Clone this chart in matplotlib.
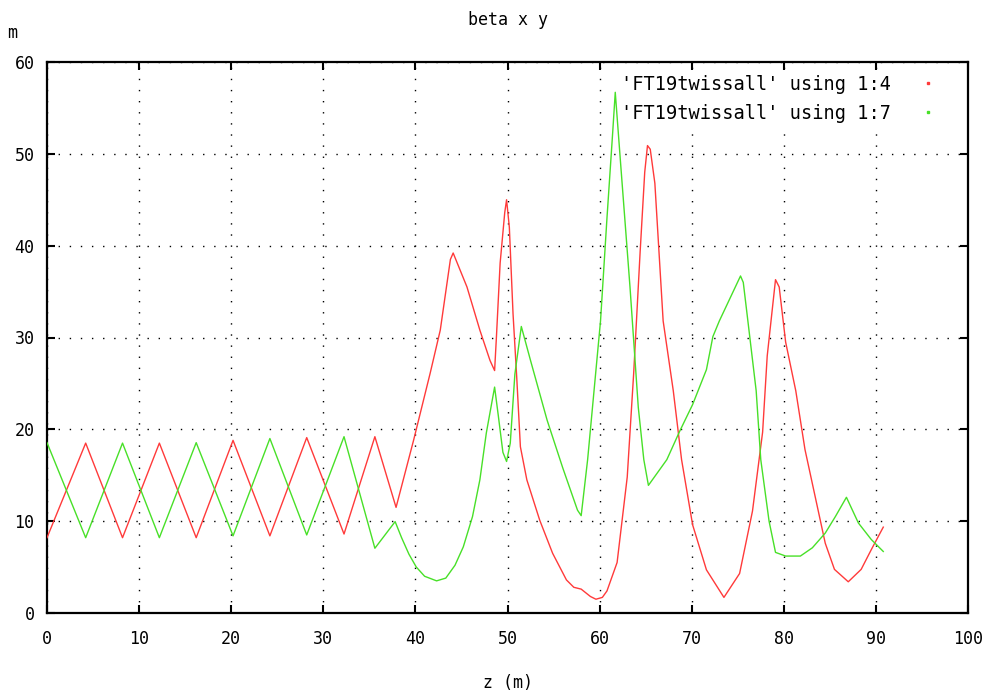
import numpy as np
import matplotlib.pyplot as plt
from matplotlib.lines import Line2D

# beta x (column 4)
z_bx = [0, 4.2, 8.2, 12.2, 16.2, 20.2, 24.2, 28.2, 32.25, 35.6, 37.9,
        39.8, 41.6, 42.7, 43.8, 44.1, 45.6, 47.0, 48.1, 48.6, 48.8, 49.2,
        49.7, 49.9, 50.2, 50.6, 51.0, 51.4, 52.1, 53.5, 54.9, 56.4, 57.2,
        58.0, 59.0, 59.6, 60.3, 60.8, 61.9, 63.0, 63.7, 64.4, 64.9, 65.2,
        65.5, 66.0, 66.9, 68.0, 68.9, 70.1, 71.6, 73.5, 75.2, 76.6, 77.7,
        78.2, 79.1, 79.5, 80.2, 81.3, 82.3, 83.4, 84.5, 85.5, 87.0, 88.4,
        89.5, 90.8]
beta_x = [8.2, 18.5, 8.2, 18.5, 8.2, 18.8, 8.4, 19.1, 8.6, 19.2, 11.5,
          18.8, 26.1, 30.8, 38.5, 39.2, 35.5, 30.8, 27.5, 26.4, 30.1, 38.1,
          43.6, 45.0, 42.0, 32.6, 25.7, 18.1, 14.5, 10.1, 6.5, 3.6, 2.8,
          2.6, 1.8, 1.5, 1.7, 2.4, 5.5, 14.8, 26.1, 39.3, 48.0, 50.9,
          50.5, 46.8, 31.8, 24.2, 16.7, 9.6, 4.7, 1.7, 4.3, 11.1, 19.7,
          28.0, 36.3, 35.5, 29.5, 24.2, 17.8, 12.7, 7.6, 4.75, 3.4, 4.75,
          6.9, 9.35]

# beta y (column 7)
z_by = [0, 4.2, 8.2, 12.2, 16.2, 20.2, 24.2, 28.2, 32.25, 35.6, 37.8,
        38.5, 39.3, 40.1, 41.0, 42.3, 43.3, 44.3, 45.2, 46.2, 47.0, 47.7,
        48.6, 49.0, 49.5, 49.9, 50.3, 50.8, 51.5, 52.5, 54.3, 56.0, 57.6,
        58.0, 58.7, 60.1, 60.8, 61.4, 61.7, 62.3, 63.3, 64.2, 64.8, 65.3,
        67.3, 68.7, 70.1, 71.6, 72.3, 73.0, 75.3, 75.6, 76.1, 77.0, 77.5,
        78.4, 79.1, 80.2, 81.8, 83.1, 84.5, 85.6, 86.8, 88.1, 89.5, 90.8]
beta_y = [18.55, 8.2, 18.5, 8.2, 18.55, 8.4, 19.0, 8.5, 19.2, 7.05, 9.95,
          8.2, 6.4, 5.0, 4.0, 3.5, 3.8, 5.2, 7.2, 10.5, 14.5, 19.6,
          24.6, 21.5, 17.5, 16.5, 18.5, 26.0, 31.2, 27.5, 21.0, 15.8, 11.2,
          10.6, 16.7, 31.8, 43.0, 52.0, 56.7, 48.7, 35.5, 22.4, 16.7, 13.9,
          16.7, 19.8, 22.7, 26.5, 30.1, 31.8, 36.7, 36.0, 31.8, 24.2, 16.7,
          10.0, 6.6, 6.2, 6.2, 7.1, 8.7, 10.5, 12.6, 9.8, 8.0, 6.7]

x_ticks = np.arange(0, 101, 10)
y_ticks = np.arange(0, 61, 10)

red = "#ff3a3a"
green = "#48e028"

plt.rcParams['font.family'] = ['DejaVu Sans Mono']
plt.rcParams['font.size'] = 12

fig = plt.figure(figsize=(9.92, 7.0), dpi=100)
ax = fig.add_axes([47 / 992, 87 / 700, 921 / 992, 551 / 700])

ax.plot(z_bx, beta_x, color=red, lw=1.0, zorder=3)
ax.plot(z_by, beta_y, color=green, lw=1.0, zorder=3)

ax.set_xlim(0, 100)
ax.set_ylim(0, 60)
ax.set_xticks(x_ticks)
ax.set_yticks(y_ticks)
ax.tick_params(direction="in", length=6, width=1.5, top=True, right=True,
               labelsize=12)
ax.tick_params(axis="x", pad=12)
ax.tick_params(axis="y", pad=9)
for sp in ax.spines.values():
    sp.set_linewidth(1.6)
ax.grid(True, color="black", linestyle=(0, (1, 7)), linewidth=1.0)

# legend: text with tiny point samples on the right, like gnuplot
# (white box hides the grid there, curves still drawn on top)
handles = [Line2D([], [], ls="none", marker="s", markersize=1.5, color=red),
           Line2D([], [], ls="none", marker="s", markersize=1.5, color=green)]
leg = ax.legend(handles, ["'FT19twissall' using 1:4", "'FT19twissall' using 1:7"],
                loc="upper right", bbox_to_anchor=(1 - 27 / 921, 1 - 9 / 551),
                markerfirst=False, fontsize=13.4,
                frameon=True, facecolor="white", edgecolor="white",
                framealpha=1, fancybox=False, handlelength=1.0,
                handletextpad=1.5, borderaxespad=0.0, borderpad=0.2,
                labelspacing=0.55)
leg.set_zorder(2.5)

fig.text(508 / 992, 1 - 20 / 700, "beta x y", ha="center", va="center", fontsize=12)
fig.text(12 / 992, 1 - 33 / 700, "m", ha="center", va="center", fontsize=12)
fig.text(508 / 992, 1 - 683 / 700, "z (m)", ha="center", va="center", fontsize=12)

fig.savefig("out.png", dpi=100)
